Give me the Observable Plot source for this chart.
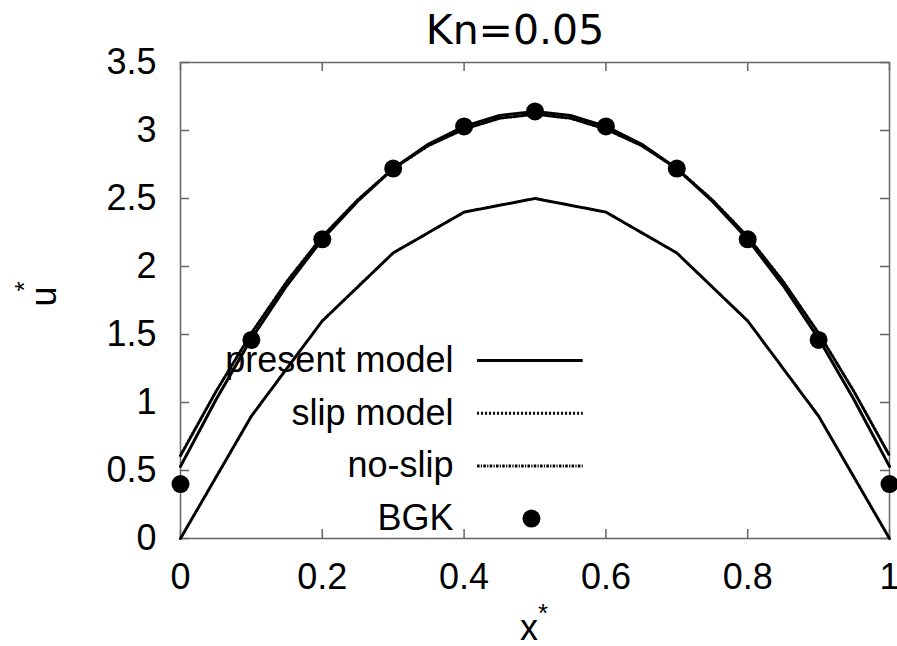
<!DOCTYPE html>
<html>
<head>
<meta charset="utf-8">
<script src="https://cdn.jsdelivr.net/npm/d3@7"></script>
<script src="https://cdn.jsdelivr.net/npm/@observablehq/plot@0.6"></script>
<style>
  html, body { margin: 0; padding: 0; background: #fff; }
</style>
</head>
<body>
<div id="chart"></div>
<script>
// ---- data ----
const titleText = "Kn=0.05";
const xFine = [0, 0.05, 0.1, 0.15, 0.2, 0.25, 0.3, 0.35, 0.4, 0.45, 0.5, 0.55, 0.6, 0.65, 0.7, 0.75, 0.8, 0.85, 0.9, 0.95, 1];
const presentModel = [0.53, 1.02, 1.47, 1.86, 2.20, 2.48, 2.72, 2.90, 3.03, 3.11, 3.14, 3.11, 3.03, 2.90, 2.72, 2.48, 2.20, 1.86, 1.47, 1.02, 0.53];
const slipModel = [0.61, 1.08, 1.51, 1.89, 2.22, 2.49, 2.72, 2.89, 3.01, 3.09, 3.12, 3.09, 3.01, 2.89, 2.72, 2.49, 2.22, 1.89, 1.51, 1.08, 0.61];
const xCoarse = [0, 0.1, 0.2, 0.3, 0.4, 0.5, 0.6, 0.7, 0.8, 0.9, 1];
const noSlip = [0, 0.9, 1.6, 2.1, 2.4, 2.5, 2.4, 2.1, 1.6, 0.9, 0];
const bgk = [0.40, 1.46, 2.20, 2.72, 3.03, 3.14, 3.03, 2.72, 2.20, 1.46, 0.40];
const xTicks = [0, 0.2, 0.4, 0.6, 0.8, 1];
const xTickLabels = ["0", "0.2", "0.4", "0.6", "0.8", "1"];
const yTicks = [0, 0.5, 1, 1.5, 2, 2.5, 3, 3.5];
const yTickLabels = ["0", "0.5", "1", "1.5", "2", "2.5", "3", "3.5"];
const legendLabels = ["present model", "slip model", "no-slip", "BGK"];
const xLabel = "x";
const yLabel = "u";
const supLabel = "*";

// ---- tables ----
const fine = xFine.map((x, i) => ({x, present: presentModel[i], slip: slipModel[i]}));
const coarse = xCoarse.map((x, i) => ({x, noslip: noSlip[i], bgk: bgk[i]}));

// ---- styles ----
const lineStyles = [
  {stroke: "#000", strokeWidth: 3},
  {stroke: "#000", strokeWidth: 3, strokeDasharray: "2,2"},
  {stroke: "#000", strokeWidth: 3, strokeDasharray: "2.5,1.3,1.2,1.3"}
];
const frameColor = "#666";
const W = 897, H = 646;
const mL = 180, mR = 8, mT = 62, mB = 108;
const innerW = W - mL - mR, innerH = H - mT - mB;
const tickLen = 9;

// legend layout (data coordinates)
const legTextX = 0.385, legLineX1 = 0.419, legLineX2 = 0.568, legDotX = 0.495;
const legY0 = 1.309, legStep = 0.3875;
const legRows = legendLabels.map((label, i) => ({label, i, y: legY0 - i * legStep}));

const fmtX = d => xTickLabels[xTicks.indexOf(d)];
const fmtY = d => yTickLabels[yTicks.indexOf(d)];

const plot = Plot.plot({
  width: W,
  height: H,
  marginLeft: mL,
  marginRight: mR,
  marginTop: mT,
  marginBottom: mB,
  style: {fontFamily: "'Liberation Sans', Arial, sans-serif", background: "#fff", color: "#000", overflow: "visible"},
  x: {domain: [0, 1]},
  y: {domain: [0, 3.5]},
  marks: [
    Plot.frame({stroke: frameColor, strokeWidth: 1.5}),
    // inward ticks, mirrored
    Plot.tickX(xTicks, {x: d => d, stroke: frameColor, strokeWidth: 1.5, insetTop: innerH - tickLen}),
    Plot.tickX(xTicks, {x: d => d, stroke: frameColor, strokeWidth: 1.5, insetBottom: innerH - tickLen}),
    Plot.tickY(yTicks, {y: d => d, stroke: frameColor, strokeWidth: 1.5, insetRight: innerW - tickLen}),
    Plot.tickY(yTicks, {y: d => d, stroke: frameColor, strokeWidth: 1.5, insetLeft: innerW - tickLen}),
    Plot.axisX({ticks: xTicks, tickFormat: fmtX, tickSize: 0, tickPadding: 25, fontSize: 36, label: null}),
    Plot.axisY({ticks: yTicks, tickFormat: fmtY, tickSize: 0, tickPadding: 24, fontSize: 36, label: null}),
    // curves
    Plot.line(fine, {x: "x", y: "slip", ...lineStyles[1]}),
    Plot.line(coarse, {x: "x", y: "noslip", ...lineStyles[2]}),
    Plot.line(fine, {x: "x", y: "present", ...lineStyles[0]}),
    Plot.dot(coarse, {x: "x", y: "bgk", r: 9, fill: "#000", stroke: null}),
    // legend
    Plot.text(legRows, {x: () => legTextX, y: "y", text: "label", textAnchor: "end", lineAnchor: "middle", fontSize: 36, fill: "#000"}),
    ...[0, 1, 2].map(i => Plot.ruleY([legRows[i]], {x1: () => legLineX1, x2: () => legLineX2, y: "y", ...lineStyles[i]})),
    Plot.dot([legRows[3]], {x: () => legDotX, y: "y", r: 9, fill: "#000", stroke: null}),
    // title
    Plot.text([titleText], {frameAnchor: "top", text: d => d, dx: -20, dy: -32, lineAnchor: "middle", fontSize: 41, fontFamily: "'DejaVu Sans', sans-serif", fill: "#000"}),
    // axis labels
    Plot.text([xLabel], {frameAnchor: "bottom", text: d => d, dx: -6, dy: 90, lineAnchor: "middle", fontSize: 36, fill: "#000"}),
    Plot.text([supLabel], {frameAnchor: "bottom", text: d => d, textAnchor: "start", dx: 3, dy: 75, lineAnchor: "middle", fontSize: 26, fill: "#000"}),
    Plot.text([yLabel], {frameAnchor: "left", text: d => d, rotate: -90, dx: -136, dy: 6, lineAnchor: "middle", fontSize: 36, fill: "#000"}),
    Plot.text([supLabel], {frameAnchor: "left", text: d => d, rotate: -90, dx: -156, dy: -9, lineAnchor: "middle", fontSize: 26, fill: "#000"})
  ]
});
document.getElementById("chart").appendChild(plot);
</script>
</body>
</html>
